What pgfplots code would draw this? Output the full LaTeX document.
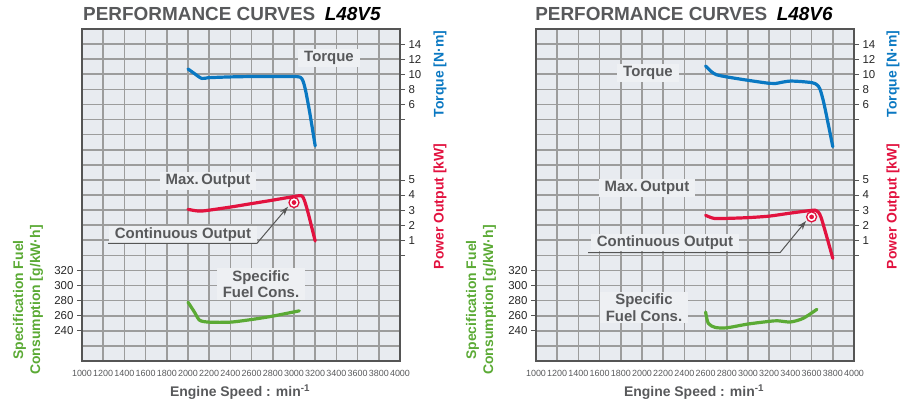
\documentclass[border=0pt]{standalone}
\usepackage{fontspec}
\setmainfont{Liberation Sans}
\usepackage{pgfplots}
\pgfplotsset{compat=1.18}
\usetikzlibrary{arrows.meta}

\definecolor{bgcol}{HTML}{E8EBF0}
\definecolor{lblbg}{HTML}{EEF0F3}
\definecolor{gridcol}{HTML}{9C9C9C}
\definecolor{framecol}{HTML}{555555}
\definecolor{txtgray}{HTML}{58595B}
\definecolor{torquecol}{HTML}{0A78C2}
\definecolor{powercol}{HTML}{E2123F}
\definecolor{fuelcol}{HTML}{5BAA35}

\pgfplotsset{
  panel/.style={width=318bp, height=332bp, scale only axis, anchor=south west,
    xmin=1000, xmax=4000},
  base/.style={panel, ymin=0, ymax=22,
    axis background/.style={fill=bgcol},
    hide obscured x ticks=false,
    xtick={1000,1200,...,4000},
    xticklabels={1000,1200,1400,1600,1800,2000,2200,2400,2600,2800,3000,3200,3400,3600,3800,4000},
    ytick={0,...,22}, yticklabels={},
    grid=major, grid style={gridcol, line width=1.6bp},
    major tick length=0pt,
    axis line style={draw=none},
    xticklabel style={font=\fontsize{9}{9}\selectfont, text=txtgray, yshift=-6bp},
    after end axis/.code={\draw[framecol, line width=2.8bp]
      (rel axis cs:0,0) rectangle (rel axis cs:1,1);}},
  over/.style={panel, axis x line=none, axis line style={draw=none},
    tick align=outside, major tick length=5bp,
    tick style={framecol, line width=0.8bp},
    yticklabel style={font=\fontsize{11.5}{12}\selectfont, text=black!85}},
  torqueax/.style={over, axis y line*=right, ymin=-28, ymax=16,
    ytick={4,6,...,14}, yticklabels={,6,8,10,12,14}},
  powerax/.style={over, axis y line*=right, ymin=-7, ymax=15,
    ytick={0,...,5}, yticklabels={,1,2,3,4,5}},
  fuelax/.style={over, axis y line*=left, ymin=200, ymax=640,
    ytick={240,260,...,320}, yticklabels={240,260,280,300,320}},
  curve/.style={line width=3.2bp, line cap=round, line join=round, smooth, tension=0.45},
}
\tikzset{
  lbl/.style={fill=lblbg, text=txtgray, font=\bfseries\fontsize{15}{16.5}\selectfont,
    inner xsep=6bp, inner ysep=2bp, align=center},
  ttl/.style={anchor=base, font=\bfseries\fontsize{19}{21}\selectfont},
  ylbl/.style={rotate=90, font=\bfseries\fontsize{14}{17}\selectfont, align=center},
  arr/.style={framecol, line width=1bp, -{Stealth[length=9bp,width=6bp]}},
}

\begin{document}
\begin{tikzpicture}
\useasboundingbox (0,0) rectangle (900bp,404bp);

% ---------- L48V5 ----------
\begin{axis}[base, at={(82bp,43bp)}]
\end{axis}
\begin{axis}[torqueax, at={(82bp,43bp)}]
\addplot[curve, torquecol] coordinates {
(2000,10.7) (2060,10.1) (2130,9.45) (2200,9.55) (2400,9.65) (2600,9.7)
(2800,9.7) (3000,9.7) (3060,9.6) (3085,9.1) (3110,7.8) (3150,4.8) (3200,0.5)};
\end{axis}
\begin{axis}[powerax, at={(82bp,43bp)}]
\addplot[curve, powercol] coordinates {
(2000,3.05) (2080,2.95) (2150,2.95) (2400,3.2) (2600,3.43) (2800,3.66)
(3000,3.9) (3070,3.95) (3095,3.7) (3130,2.9) (3200,0.95)};
\addplot[only marks, mark=*, mark size=5bp,
  mark options={draw=powercol, fill=white, line width=1.3bp}] coordinates {(3000,3.5)};
\addplot[only marks, mark=*, mark size=2.1bp,
  mark options={draw=powercol, fill=powercol}] coordinates {(3000,3.5)};
\end{axis}
\begin{axis}[fuelax, at={(82bp,43bp)}]
\addplot[curve, fuelcol] coordinates {
(2000,278) (2060,265) (2110,254) (2200,251.5) (2400,251.5) (2600,255)
(2800,259.5) (3050,266.5)};
\end{axis}

\node[ttl] at (232bp,383.3bp) {\textcolor{txtgray}{PERFORMANCE CURVES}\hspace{0.5em}\textit{L48V5}};
\node[lbl] at (329bp,346bp) {Torque};
\node[lbl] at (208bp,223bp) {Max.\,Output};
\node[lbl] at (183bp,169.5bp) {Continuous Output};
\draw[arr] (108bp,160.7bp) -- (257bp,160.7bp) -- (288bp,197.3bp);
\node[lbl] at (261bp,120bp) {Specific\\Fuel Cons.};
\node[ylbl, text=fuelcol] at (28bp,104bp) {Specification Fuel\\Consumption [g/kW·h]};
\node[ylbl, text=torquecol] at (440bp,330bp) {Torque [N·m]};
\node[ylbl, text=powercol] at (440bp,197.5bp) {Power Output [kW]};
\node[anchor=base, text=txtgray, font=\bfseries\fontsize{14}{16}\selectfont]
  at (240bp,7.5bp) {Engine Speed : min\textsuperscript{-1}};

% ---------- L48V6 ----------
\begin{axis}[base, at={(536bp,43bp)}]
\end{axis}
\begin{axis}[torqueax, at={(536bp,43bp)}]
\addplot[curve, torquecol] coordinates {
(2600,11.1) (2650,10.4) (2700,9.95) (2800,9.65) (3000,9.2) (3200,8.8)
(3260,8.78) (3400,9.1) (3600,8.9) (3650,8.6) (3680,8.0) (3720,5.9) (3800,0.4)};
\end{axis}
\begin{axis}[powerax, at={(536bp,43bp)}]
\addplot[curve, powercol] coordinates {
(2600,2.65) (2680,2.45) (2800,2.45) (3000,2.5) (3200,2.6) (3400,2.8)
(3600,2.98) (3645,2.96) (3690,2.5) (3800,-0.2)};
\addplot[only marks, mark=*, mark size=5bp,
  mark options={draw=powercol, fill=white, line width=1.3bp}] coordinates {(3600,2.55)};
\addplot[only marks, mark=*, mark size=2.1bp,
  mark options={draw=powercol, fill=powercol}] coordinates {(3600,2.55)};
\end{axis}
\begin{axis}[fuelax, at={(536bp,43bp)}]
\addplot[curve, fuelcol] coordinates {
(2600,265) (2625,250) (2690,244.5) (2800,244) (3000,249) (3200,252.5)
(3280,253.3) (3400,251.7) (3520,256.5) (3650,268.5)};
\end{axis}

\node[ttl] at (684bp,383.3bp) {\textcolor{txtgray}{PERFORMANCE CURVES}\hspace{0.5em}\textit{L48V6}};
\node[lbl] at (648bp,331bp) {Torque};
\node[lbl] at (647bp,216bp) {Max.\,Output};
\node[lbl] at (665bp,161.5bp) {Continuous Output};
\draw[arr] (588bp,151.3bp) -- (780bp,151.3bp) -- (806bp,183bp);
\node[lbl] at (644bp,96.5bp) {Specific\\Fuel Cons.};
\node[ylbl, text=fuelcol] at (481bp,104bp) {Specification Fuel\\Consumption [g/kW·h]};
\node[ylbl, text=torquecol] at (893bp,330bp) {Torque [N·m]};
\node[ylbl, text=powercol] at (893bp,197.5bp) {Power Output [kW]};
\node[anchor=base, text=txtgray, font=\bfseries\fontsize{14}{16}\selectfont]
  at (694bp,7.5bp) {Engine Speed : min\textsuperscript{-1}};
\end{tikzpicture}
\end{document}
